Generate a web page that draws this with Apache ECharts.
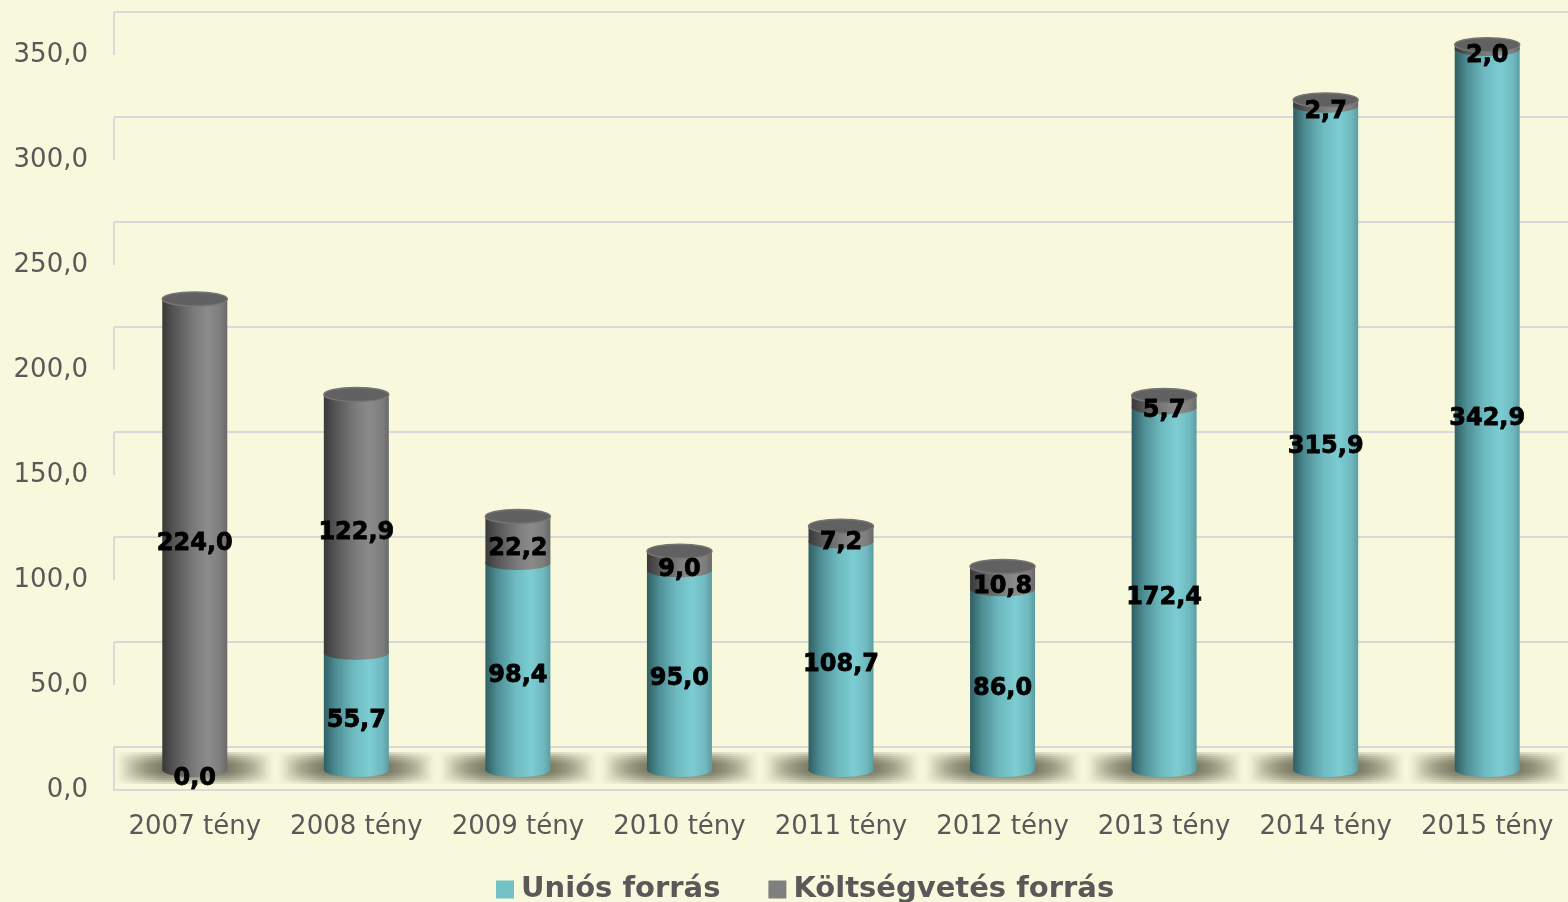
<!DOCTYPE html>
<html>
<head>
<meta charset="utf-8">
<script src="https://cdn.jsdelivr.net/npm/echarts@6/dist/echarts.min.js"></script>
<style>
  html, body { margin: 0; padding: 0; background: #f8f9dc; }
  #chart { width: 1568px; height: 902px; }
</style>
</head>
<body>
<div id="chart"></div>
<script>
// adatok
var categories = ['2007 tény', '2008 tény', '2009 tény', '2010 tény', '2011 tény', '2012 tény', '2013 tény', '2014 tény', '2015 tény'];
var uniosData = [0.0, 55.7, 98.4, 95.0, 108.7, 86.0, 172.4, 315.9, 342.9];
var koltsegData = [224.0, 122.9, 22.2, 9.0, 7.2, 10.8, 5.7, 2.7, 2.0];
var yTicks = [0, 50, 100, 150, 200, 250, 300, 350];

var FONT = 'DejaVu Sans';
var BAR_W = 65;
var CAP_RY = 7;
var DEPTH = 43;

function fmt(v) {
  return v.toFixed(1).replace('.', ',');
}

var tealGrad = [
  { offset: 0, color: '#2f5e62' },
  { offset: 0.18, color: '#4c8d93' },
  { offset: 0.45, color: '#6db9bf' },
  { offset: 0.7, color: '#7ccdd3' },
  { offset: 0.9, color: '#6fb8be' },
  { offset: 1, color: '#5b9ca1' }
];
var grayGrad = [
  { offset: 0, color: '#393939' },
  { offset: 0.18, color: '#555555' },
  { offset: 0.5, color: '#7c7c7c' },
  { offset: 0.7, color: '#8b8b8b' },
  { offset: 0.9, color: '#7d7d7d' },
  { offset: 1, color: '#686868' }
];

// halmozott szakaszok
var uniosItems = [], koltsegItems = [], labelItems = [];
categories.forEach(function (c, i) {
  var u = uniosData[i], k = koltsegData[i];
  uniosItems.push([i, 0, u, u, k > 0 ? 0 : 1]);
  koltsegItems.push([i, u, u + k, k, 1]);
  labelItems.push([i, 0, u, u]);
  labelItems.push([i, u, u + k, k]);
});

function cylinder(stops) {
  return function (params, api) {
    var i = api.value(0), lo = api.value(1), hi = api.value(2), isTop = api.value(4);
    var p0 = api.coord([i, lo]);
    var p1 = api.coord([i, hi]);
    var rx = BAR_W / 2;
    var children = [];
    if (hi - lo > 0) {
      var grad = new echarts.graphic.LinearGradient(0, 0, 1, 0, stops);
      children.push({
        type: 'ellipse',
        shape: { cx: p0[0], cy: p0[1], rx: rx, ry: CAP_RY },
        style: { fill: grad }
      });
      children.push({
        type: 'rect',
        shape: { x: p0[0] - rx, y: p1[1], width: BAR_W, height: p0[1] - p1[1] },
        style: { fill: grad }
      });
      if (isTop) {
        children.push({
          type: 'ellipse',
          shape: { cx: p1[0], cy: p1[1], rx: rx, ry: CAP_RY },
          style: { fill: '#616161', stroke: '#757575', lineWidth: 1.5 }
        });
      }
    }
    return { type: 'group', children: children };
  };
}

var chart = echarts.init(document.getElementById('chart'));
chart.setOption({
  backgroundColor: '#f8f9dc',
  animation: false,
  legend: {
    data: ['Uniós forrás', 'Költségvetés forrás'],
    left: 496,
    top: 875,
    padding: 0,
    itemWidth: 18,
    itemHeight: 18,
    itemGap: 48,
    icon: 'rect',
    textStyle: { fontFamily: FONT, fontSize: 29, fontWeight: 'bold', color: '#595959', padding: [0, 0, 0, 2] }
  },
  grid: [
    // front plane: labels, floor edge
    { left: 114, right: -9, top: 55, bottom: 112 },
    // back wall: gridlines
    { left: 114, right: -9, top: 55 - DEPTH, bottom: 112 + DEPTH },
    // middle plane: cylinders
    { left: 114, right: -9, top: 55 - 21, bottom: 112 + 20 }
  ],
  xAxis: [
    {
      gridIndex: 0, type: 'category', data: categories,
      axisLine: { show: true, lineStyle: { color: '#d9d9d9', width: 2 } },
      axisTick: { show: false },
      axisLabel: { interval: 0, fontFamily: FONT, fontSize: 26, color: '#595959', margin: 24 }
    },
    { gridIndex: 1, type: 'category', data: categories, show: false },
    { gridIndex: 2, type: 'category', data: categories, show: false }
  ],
  yAxis: [
    {
      gridIndex: 0, type: 'value', min: 0, max: 350, interval: 50,
      axisLine: { show: false }, axisTick: { show: false }, splitLine: { show: false },
      axisLabel: { fontFamily: FONT, fontSize: 26, color: '#595959', margin: 26, formatter: fmt }
    },
    {
      gridIndex: 1, type: 'value', min: 0, max: 350, interval: 50,
      axisLine: { show: false }, axisTick: { show: false }, axisLabel: { show: false },
      splitLine: { show: true, lineStyle: { color: '#d9d9d9', width: 2 } }
    },
    { gridIndex: 2, type: 'value', min: 0, max: 350, show: false, splitLine: { show: false } }
  ],
  series: [
    {
      // side wall edges
      type: 'custom', name: 'fal', xAxisIndex: 0, yAxisIndex: 0, silent: true,
      data: yTicks.map(function (t) { return [0, t]; }),
      renderItem: function (params, api) {
        var p = api.coord([0, api.value(1)]);
        var x = p[0] - api.size([1, 0])[0] / 2;
        return {
          type: 'line',
          shape: { x1: x, y1: p[1] - DEPTH, x2: x, y2: p[1] },
          style: { stroke: '#d9d9d9', lineWidth: 2 }
        };
      }
    },
    {
      // soft shadows on the floor
      type: 'custom', name: 'árnyék', xAxisIndex: 2, yAxisIndex: 2, silent: true,
      data: categories.map(function (c, i) { return [i, 0]; }),
      renderItem: function (params, api) {
        var p = api.coord([api.value(0), 0]);
        var layers = [];
        for (var k = 0; k < 7; k++) {
          var h = 8 + k * 4, w = 140 + k * 4;
          layers.push({
            type: 'rect',
            shape: { x: p[0] - w / 2, y: p[1] - 2 - h / 2, width: w, height: h },
            style: {
              fill: new echarts.graphic.LinearGradient(0, 0, 1, 0, [
                { offset: 0, color: 'rgba(95,95,75,0)' },
                { offset: 0.3, color: 'rgba(95,95,75,0.22)' },
                { offset: 0.7, color: 'rgba(95,95,75,0.22)' },
                { offset: 1, color: 'rgba(95,95,75,0)' }
              ])
            }
          });
        }
        return { type: 'group', children: layers };
      }
    },
    {
      type: 'custom', name: 'Uniós forrás', xAxisIndex: 2, yAxisIndex: 2,
      itemStyle: { color: '#72c1c7' },
      data: uniosItems,
      renderItem: cylinder(tealGrad)
    },
    {
      type: 'custom', name: 'Költségvetés forrás', xAxisIndex: 2, yAxisIndex: 2,
      itemStyle: { color: '#7f7f7f' },
      data: koltsegItems,
      renderItem: cylinder(grayGrad)
    },
    {
      // data labels
      type: 'custom', name: 'címkék', xAxisIndex: 2, yAxisIndex: 2, silent: true,
      data: labelItems,
      renderItem: function (params, api) {
        var i = api.value(0), lo = api.value(1), hi = api.value(2);
        var p = api.coord([i, (lo + hi) / 2]);
        return {
          type: 'text',
          x: p[0], y: p[1] + 9,
          style: {
            text: fmt(api.value(3)),
            fontFamily: FONT, fontSize: 24, fontWeight: 'bold', fill: '#000',
            stroke: '#000', lineWidth: 0.8,
            align: 'center', verticalAlign: 'middle'
          }
        };
      }
    }
  ]
});
</script>
</body>
</html>
